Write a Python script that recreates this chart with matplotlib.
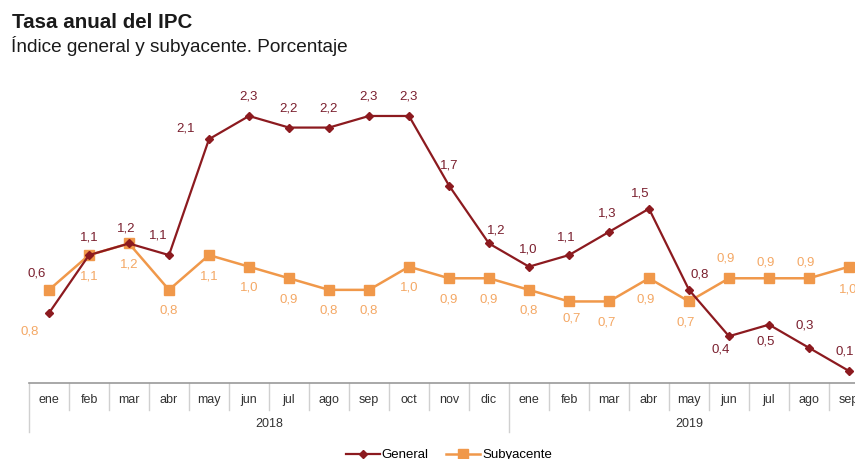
import matplotlib.pyplot as plt
import matplotlib.transforms as mtransforms

plt.rcParams['font.family'] = ['Liberation Sans', 'DejaVu Sans']

# Datos: tasa anual del IPC
meses = ['ene', 'feb', 'mar', 'abr', 'may', 'jun', 'jul', 'ago', 'sep', 'oct', 'nov', 'dic',
         'ene', 'feb', 'mar', 'abr', 'may', 'jun', 'jul', 'ago', 'sep']
anios = ['2018', '2019']
general = [0.6, 1.1, 1.2, 1.1, 2.1, 2.3, 2.2, 2.2, 2.3, 2.3, 1.7, 1.2,
           1.0, 1.1, 1.3, 1.5, 0.8, 0.4, 0.5, 0.3, 0.1]
subyacente = [0.8, 1.1, 1.2, 0.8, 1.1, 1.0, 0.9, 0.8, 0.8, 1.0, 0.9, 0.9,
              0.8, 0.7, 0.7, 0.9, 0.7, 0.9, 0.9, 0.9, 1.0]

# desplazamiento de las etiquetas (pixeles)
off_gen = [(-12, 40), (0, 18), (-3, 15), (-11, 20), (-23, 11), (0, 19), (0, 19), (0, 19),
           (0, 19), (0, 19), (0, 20), (7, 13), (-1, 17), (-3, 18), (-2, 18), (-9, 15),
           (11, 15), (-8, -13), (-3, -17), (-4, 22), (-4, 20)]
off_sub = [(-19, -42)] + [(0, -21)] * 12 + [(3, -17), (-2, -21), (-3, -21), (-3, -21),
                                            (-3, 20), (-3, 16), (-3, 16), (-1, -23)]

c_gen = '#8c1a1f'
c_sub = '#f0984a'
c_sub_txt = '#f4a865'

fig = plt.figure(figsize=(8.55, 4.59), dpi=100)
ax = fig.add_axes([29 / 855, (459 - 382.6) / 459, 840 / 855, 289.8 / 459])

x = list(range(len(meses)))
ax.plot(x, general, '-D', color=c_gen, lw=1.6, ms=4.5, label='General', zorder=3)
ax.plot(x, subyacente, '-s', color=c_sub, lw=1.8, ms=7, label='Subyacente', zorder=2)

for i, v in enumerate(general):
    ax.annotate(f'{v:.1f}'.replace('.', ','), (i, v), xytext=off_gen[i],
                textcoords='offset pixels', ha='center', va='center',
                fontsize=9.5, color='#7a1f2e')
for i, v in enumerate(subyacente):
    ax.annotate(f'{v:.1f}'.replace('.', ','), (i, v), xytext=off_sub[i],
                textcoords='offset pixels', ha='center', va='center',
                fontsize=9.5, color=c_sub_txt)

ax.set_xlim(-0.5, len(meses) - 0.5)
ax.set_ylim(0, 2.5)
ax.set_yticks([])
ax.set_xticks([])
for s in ['top', 'right', 'left']:
    ax.spines[s].set_visible(False)
ax.spines['bottom'].set_color('#9a9a9a')
ax.spines['bottom'].set_linewidth(1.2)

# tabla de meses y anios bajo el eje
tr = mtransforms.blended_transform_factory(ax.transData, ax.transAxes)
for i in range(len(meses) + 1):
    bajo = -0.17 if i in (0, 12) else -0.093
    ax.plot([i - 0.5, i - 0.5], [0, bajo], color='#d0d0d0', lw=1, transform=tr, clip_on=False)
for i, m in enumerate(meses):
    ax.text(i, -0.06, m, transform=tr, ha='center', va='center', fontsize=9, color='#333333')
ax.text(5.5, -0.143, anios[0], transform=tr, ha='center', va='center', fontsize=9, color='#333333')
ax.text(16, -0.143, anios[1], transform=tr, ha='center', va='center', fontsize=9, color='#333333')

fig.text(12 / 855, 1 - 22 / 459, 'Tasa anual del IPC', fontsize=14.8, fontweight='bold',
         ha='left', va='center', color='#1a1a1a')
fig.text(11 / 855, 1 - 46 / 459, 'Índice general y subyacente. Porcentaje', fontsize=13.7,
         ha='left', va='center', color='#1a1a1a')

fig.legend(loc='center', bbox_to_anchor=(0.525, 1 - 455 / 459), ncol=2, frameon=False,
           fontsize=9.5, handlelength=2.6, handletextpad=0.15, columnspacing=1.3)

fig.savefig('out.png', dpi=100)
